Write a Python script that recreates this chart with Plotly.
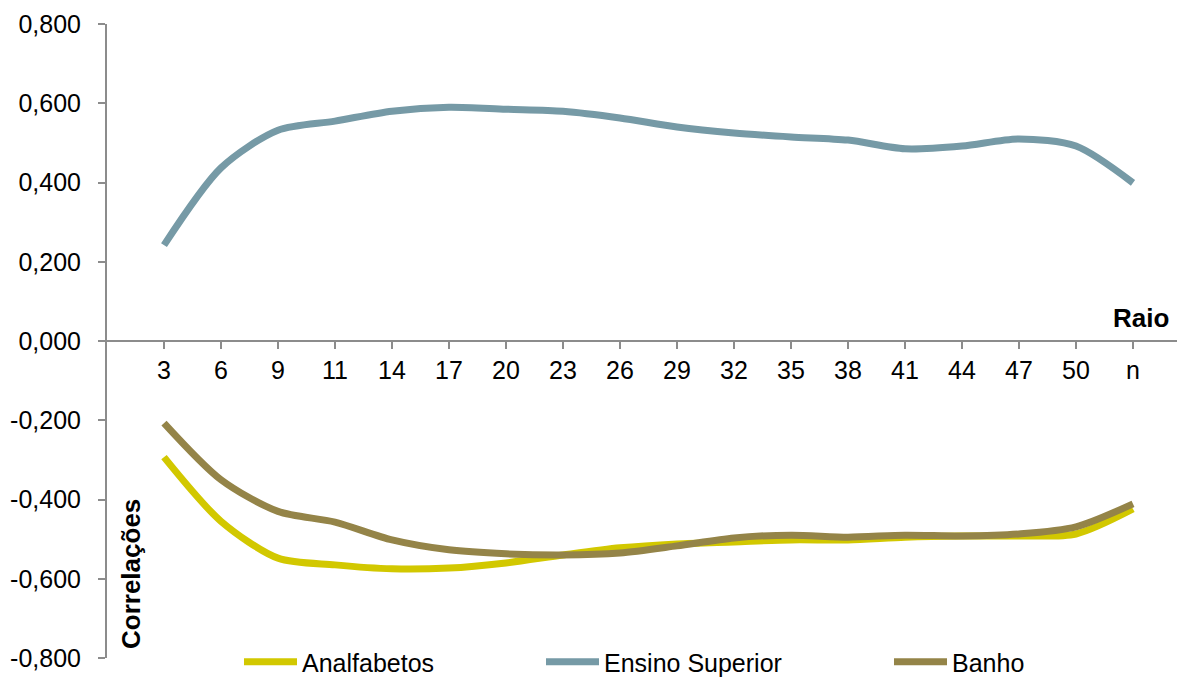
import plotly.graph_objects as go

categories = ["3", "6", "9", "11", "14", "17", "20", "23", "26", "29", "32", "35", "38", "41", "44", "47", "50", "n"]
analfabetos = [-0.293, -0.455, -0.548, -0.565, -0.575, -0.573, -0.560, -0.540, -0.522, -0.512, -0.507, -0.502, -0.502, -0.495, -0.492, -0.492, -0.487, -0.424]
ensino_superior = [0.242, 0.437, 0.532, 0.555, 0.580, 0.590, 0.585, 0.580, 0.563, 0.540, 0.525, 0.515, 0.507, 0.485, 0.492, 0.510, 0.492, 0.399]
banho = [-0.207, -0.350, -0.430, -0.457, -0.502, -0.527, -0.537, -0.540, -0.535, -0.517, -0.497, -0.490, -0.495, -0.490, -0.492, -0.487, -0.469, -0.411]

y_ticks = [-0.8, -0.6, -0.4, -0.2, 0.0, 0.2, 0.4, 0.6, 0.8]
y_ticktext = [f"{v:.3f}".replace(".", ",") for v in y_ticks]

FONT = "Liberation Sans, Arial, sans-serif"
xidx = list(range(len(categories)))

fig = go.Figure()
series = [
    ("Analfabetos", analfabetos, "#D2C800", "legend"),
    ("Ensino Superior", ensino_superior, "#769AA6", "legend2"),
    ("Banho", banho, "#948448", "legend3"),
]
for name, vals, color, lg in series:
    fig.add_trace(go.Scatter(
        x=xidx, y=vals, name=name, mode="lines",
        line=dict(color=color, width=7, shape="spline", smoothing=0.8),
        legend=lg,
    ))

# page has an 8px body margin: figure placed at (8, 8) in the window
OFF = 8
W, H = 1185 - OFF, 677 - OFF
L, R, T, B = 107 - OFF, 0, 24 - OFF, 19
pw = W - L - R
ph = H - T - B

def px_x(p):  # screen pixel -> paper fraction
    return (p - OFF - L) / pw

def px_y(p):
    return (H - B - (p - OFF)) / ph

leg_common = dict(orientation="h", font=dict(family=FONT, size=25, color="#000"),
                  bgcolor="rgba(0,0,0,0)", borderwidth=0, itemwidth=53,
                  yanchor="middle", xanchor="left", y=px_y(662), tracegroupgap=0)

fig.update_layout(
    width=W, height=H,
    margin=dict(l=L, r=R, t=T, b=B, pad=0, autoexpand=False),
    paper_bgcolor="white", plot_bgcolor="white",
    font=dict(family=FONT, size=25, color="#000"),
    showlegend=True,
    legend=dict(leg_common, x=px_x(239)),
    legend2=dict(leg_common, x=px_x(541)),
    legend3=dict(leg_common, x=px_x(889)),
    xaxis=dict(
        range=[-1, (1185 - 164) / 57.0], tickmode="array", tickvals=xidx, ticktext=categories,
        anchor="free", position=0.5, showline=True, linecolor="#8C8C8C", linewidth=2,
        ticks="outside", ticklen=7, tickwidth=2, tickcolor="#8C8C8C",
        showgrid=False, zeroline=False, tickfont=dict(family=FONT, size=25, color="#000"),
        automargin=False, fixedrange=True,
    ),
    yaxis=dict(
        range=[-0.8, 0.8], tickmode="array", tickvals=y_ticks, ticktext=y_ticktext,
        showline=True, linecolor="#8C8C8C", linewidth=2,
        ticks="outside", ticklen=7, tickwidth=2, tickcolor="#8C8C8C",
        showgrid=False, zeroline=False, tickfont=dict(family=FONT, size=25, color="#000"),
        ticklabelstandoff=12, automargin=False,
    ),
    annotations=[
        dict(text="<b>Raio</b>", xref="paper", yref="paper", x=px_x(1171), y=px_y(318),
             xanchor="right", yanchor="middle", showarrow=False,
             font=dict(family=FONT, size=26, color="#000")),
        dict(text="<b>Correlações</b>", xref="paper", yref="paper", x=px_x(131), y=px_y(651),
             xanchor="center", yanchor="bottom", textangle=-90, showarrow=False,
             font=dict(family=FONT, size=26, color="#000")),
    ],
)

fig.write_html("out.html")
